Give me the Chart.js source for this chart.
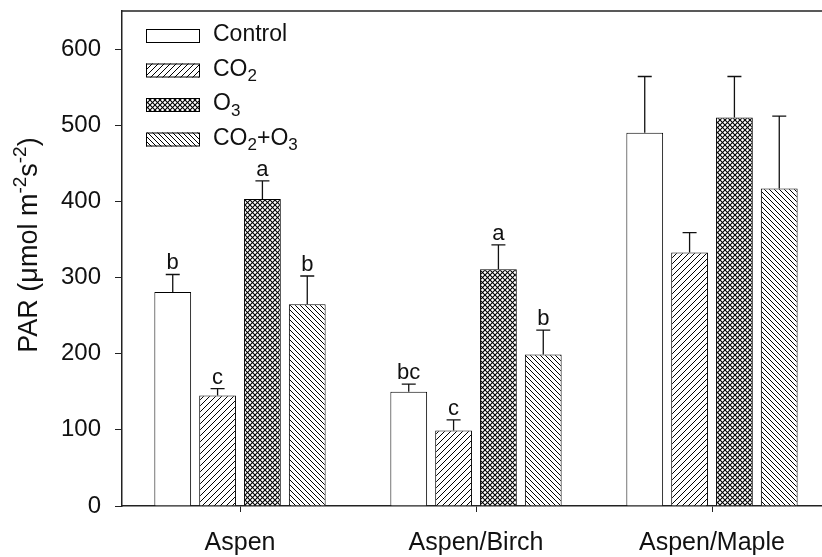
<!DOCTYPE html>
<html>
<head>
<meta charset="utf-8">
<script src="https://cdn.jsdelivr.net/npm/chart.js@4/dist/chart.umd.min.js"></script>
<style>
html, body { margin: 0; padding: 0; background: #fff; overflow: hidden; }
#wrap { width: 840px; height: 557px; }
</style>
</head>
<body>
<div id="wrap"><canvas id="parChart"></canvas></div>
<script>
const sites = ['Aspen', 'Aspen/Birch', 'Aspen/Maple'];
const seriesNames = ['Control', 'CO2', 'O3', 'CO2+O3'];
const controlPar = [281, 150, 490];
const co2Par = [145, 99, 333];
const o3Par = [403, 311, 510];
const co2o3Par = [265, 199, 417];
const controlErr = [23, 10, 74];
const co2Err = [9, 14, 26];
const o3Err = [24, 32, 54];
const co2o3Err = [37, 32, 95];
const controlLetters = ['b', 'bc', ''];
const co2Letters = ['c', 'c', ''];
const o3Letters = ['a', 'a', ''];
const co2o3Letters = ['b', 'b', ''];
const yTicks = [0, 100, 200, 300, 400, 500, 600];

const FONT = '"Liberation Sans", Arial, Helvetica, sans-serif';
const INK = '#111';

const ctx = document.querySelector('#parChart').getContext('2d');

// hatch fills, like the old SigmaPlot bar patterns
function hatch(size, dirs, lw) {
    const c = document.createElement('canvas');
    c.width = size;
    c.height = size;
    const g = c.getContext('2d');
    g.fillStyle = '#fff';
    g.fillRect(0, 0, size, size);
    g.strokeStyle = '#000';
    g.lineWidth = lw;
    dirs.forEach(d => {
        g.beginPath();
        for (let k = -1; k <= 1; k++) {
            if (d === '/') {
                g.moveTo(k * size, size);
                g.lineTo(k * size + size, 0);
            } else {
                g.moveTo(k * size, 0);
                g.lineTo(k * size + size, size);
            }
        }
        g.stroke();
    });
    return ctx.createPattern(c, 'repeat');
}

const fills = ['#fff', hatch(6, ['/'], 1), hatch(5, ['/', '\\'], 1.1), hatch(5, ['\\'], 1)];
const errs = [controlErr, co2Err, o3Err, co2o3Err];
const letters = [controlLetters, co2Letters, o3Letters, co2o3Letters];

// text with digits as subscripts (CO2, O3)
function chemText(g, text, x, y, size) {
    let cx = x;
    text.split(/(\d)/).filter(s => s).forEach(part => {
        if (/\d/.test(part)) {
            g.font = Math.round(size * 0.72) + 'px ' + FONT;
            g.fillText(part, cx, y + size * 0.3);
        } else {
            g.font = size + 'px ' + FONT;
            g.fillText(part, cx, y);
        }
        cx += g.measureText(part).width;
    });
}

const extras = {
    id: 'extras',
    afterDatasetsDraw(chart) {
        const g = chart.ctx;
        const y = chart.scales.y;
        g.save();
        g.strokeStyle = INK;
        g.lineWidth = 1.3;
        g.fillStyle = INK;
        g.textAlign = 'center';
        g.textBaseline = 'alphabetic';
        g.font = '22px ' + FONT;
        chart.data.datasets.forEach((ds, i) => {
            chart.getDatasetMeta(i).data.forEach((bar, j) => {
                const top = y.getPixelForValue(ds.data[j] + errs[i][j]);
                g.beginPath();
                g.moveTo(bar.x, bar.y);
                g.lineTo(bar.x, top);
                g.moveTo(bar.x - 7, top);
                g.lineTo(bar.x + 7, top);
                g.stroke();
                if (letters[i][j]) g.fillText(letters[i][j], bar.x, top - 5);
            });
        });
        g.restore();
    },
    afterDraw(chart) {
        const g = chart.ctx;
        const a = chart.chartArea;
        g.save();
        // frame top line
        g.strokeStyle = '#222';
        g.lineWidth = 1.5;
        g.beginPath();
        g.moveTo(a.left, a.top);
        g.lineTo(a.right, a.top);
        g.stroke();

        // legend
        g.textAlign = 'left';
        g.textBaseline = 'middle';
        g.fillStyle = INK;
        seriesNames.forEach((name, i) => {
            const by = 29 + i * 34.5;
            g.fillStyle = fills[i];
            g.fillRect(146, by, 54, 14);
            g.strokeStyle = '#000';
            g.lineWidth = 1;
            g.strokeRect(146.5, by + 0.5, 53, 13);
            g.fillStyle = INK;
            chemText(g, name, 213, by + 6, 23);
        });

        // y axis title with superscripts
        const parts = [['PAR (\u03bcmol m', 0], ['-2', 1], ['s', 0], ['-2', 1], [')', 0]];
        const size = 27;
        let total = 0;
        parts.forEach(p => {
            g.font = (p[1] ? Math.round(size * 0.7) : size) + 'px ' + FONT;
            total += g.measureText(p[0]).width;
        });
        g.translate(37, 245);
        g.rotate(-Math.PI / 2);
        g.textBaseline = 'alphabetic';
        let cx = -total / 2;
        parts.forEach(p => {
            g.font = (p[1] ? Math.round(size * 0.7) : size) + 'px ' + FONT;
            g.fillText(p[0], cx, p[1] ? -size * 0.42 : 0);
            cx += g.measureText(p[0]).width;
        });
        g.restore();
    }
};

const data = {
    labels: sites,
    datasets: [controlPar, co2Par, o3Par, co2o3Par].map((vals, i) => ({
        label: seriesNames[i],
        data: vals,
        backgroundColor: fills[i],
        borderColor: '#000',
        borderWidth: 1,
        categoryPercentage: 0.76,
        barPercentage: 0.82
    }))
};

const config = {
    type: 'bar',
    data: data,
    options: {
        responsive: true,
        maintainAspectRatio: false,
        animation: false,
        layout: {
            padding: { left: 0, top: 11, right: 10, bottom: 0 }
        },
        scales: {
            y: {
                min: 0,
                max: 650,
                afterBuildTicks: s => { s.ticks = yTicks.map(v => ({ value: v })); },
                afterFit: s => {
                    s.width = 122;
                    s.paddingTop = 0;
                    s.paddingBottom = 0;
                },
                border: { display: true, color: '#222', width: 1.5 },
                grid: { drawOnChartArea: false, drawTicks: true, tickLength: 7, color: '#222' },
                ticks: {
                    color: INK,
                    padding: 14,
                    font: { family: FONT, size: 24 }
                }
            },
            x: {
                afterFit: s => {
                    s.height = 51;
                    s.paddingLeft = 0;
                    s.paddingRight = 0;
                },
                border: { display: true, color: '#222', width: 1.5 },
                grid: { drawOnChartArea: false, drawTicks: true, tickLength: 6, offset: false, color: '#222' },
                ticks: {
                    color: INK,
                    padding: 16,
                    font: { family: FONT, size: 25 }
                }
            }
        },
        plugins: {
            legend: { display: false },
            tooltip: { enabled: false }
        }
    },
    plugins: [extras]
};

new Chart(ctx, config);
</script>
</body>
</html>
